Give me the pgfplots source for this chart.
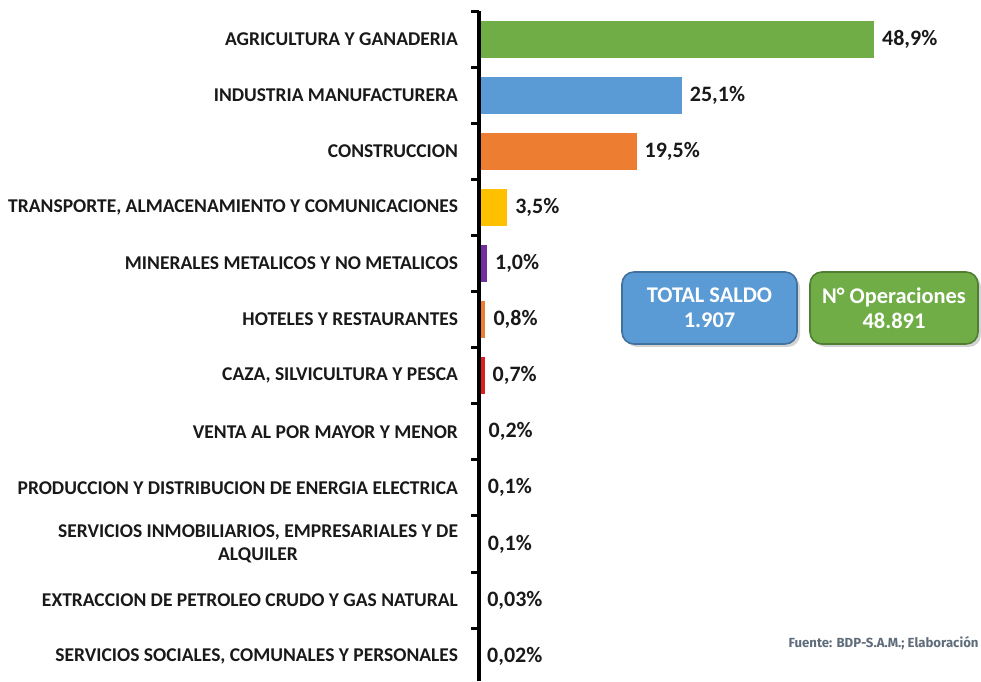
\documentclass[border=0pt]{standalone}
\usepackage{pgfplots}
\pgfplotsset{compat=1.18}
\usepackage{fontspec}
\setmainfont{Carlito}
\newfontfamily\fira{Fira Sans}
\usetikzlibrary{shadows}
\definecolor{cgreen}{RGB}{112,173,71}
\definecolor{cblue}{RGB}{91,155,213}
\definecolor{corange}{RGB}{237,125,49}
\definecolor{cyellow}{RGB}{255,192,0}
\definecolor{cpurple}{RGB}{112,48,160}
\definecolor{cred}{RGB}{220,30,30}
\definecolor{cgrey}{RGB}{140,140,140}
\definecolor{boxblueD}{RGB}{65,113,156}
\definecolor{boxgreenD}{RGB}{80,126,50}
\definecolor{fuente}{RGB}{95,108,122}
\definecolor{txt}{RGB}{25,25,25}
\begin{document}
\begin{tikzpicture}[x=0.5pt,y=0.5pt]
\useasboundingbox (0,0) rectangle (981,681);
\begin{axis}[
  at={(239.5pt,335pt)}, anchor=north west,
  x=4.04pt, y=28.05pt, y dir=reverse,
  xmin=0, xmax=50, ymin=-0.5, ymax=11.45,
  xbar, bar width=18.5pt, bar shift=0pt,
  hide x axis,
  axis y line*=left,
  axis line style={draw=none},
  every outer y axis line/.append style={draw=none},
  ytick={0,...,11}, major tick length=0pt,
  minor ytick={-0.5,0.5,...,10.5}, minor tick length=4pt,
  tick align=outside,
  every minor tick/.append style={line width=1.5pt,black},
  minor tick style={line width=1.5pt,black},
  yticklabels={{AGRICULTURA Y GANADERIA},{INDUSTRIA MANUFACTURERA},{CONSTRUCCION},{TRANSPORTE, ALMACENAMIENTO Y COMUNICACIONES},{MINERALES METALICOS Y NO METALICOS},{HOTELES Y RESTAURANTES},{CAZA, SILVICULTURA Y PESCA},{VENTA AL POR MAYOR Y MENOR},{PRODUCCION Y DISTRIBUCION DE ENERGIA ELECTRICA},{SERVICIOS INMOBILIARIOS, EMPRESARIALES Y DE\\ALQUILER},{EXTRACCION DE PETROLEO CRUDO Y GAS NATURAL},{SERVICIOS SOCIALES, COMUNALES Y PERSONALES}},
  yticklabel style={font=\bfseries\fontsize{9.75}{11.3}\selectfont, align=center, xshift=-7pt, text=txt},
  point meta=explicit symbolic,
  nodes near coords,
  every node near coord/.append style={font=\bfseries\fontsize{11}{12}\selectfont, anchor=west, xshift=0.5pt, text=txt},
  clip=false,
]
\addplot[fill=cgreen, draw=none] coordinates {(48.9,0) [{48,9\%}]};
\addplot[fill=cblue, draw=none] coordinates {(25.1,1) [{25,1\%}]};
\addplot[fill=corange, draw=none] coordinates {(19.5,2) [{19,5\%}]};
\addplot[fill=cyellow, draw=none] coordinates {(3.5,3) [{3,5\%}]};
\addplot[fill=cpurple, draw=none] coordinates {(1.0,4) [{1,0\%}]};
\addplot[fill=corange, draw=none] coordinates {(0.8,5) [{0,8\%}]};
\addplot[fill=cred, draw=none] coordinates {(0.7,6) [{0,7\%}]};
\addplot[fill=cgrey, draw=none] coordinates {(0.2,7) [{0,2\%}]};
\addplot[fill=cgrey, draw=none] coordinates {(0.1,8) [{0,1\%}]};
\addplot[fill=cgrey, draw=none] coordinates {(0.1,9) [{0,1\%}]};
\addplot[fill=cgrey, draw=none] coordinates {(0.03,10) [{0,03\%}]};
\addplot[fill=cgrey, draw=none] coordinates {(0.02,11) [{0,02\%}]};
\draw[line width=1.7pt, black] (axis cs:0,-0.5) -- (axis cs:0,11.45);
\end{axis}
\node[rounded corners=6pt, fill=cblue, draw=boxblueD, line width=0.8pt,
  minimum width=87.5pt, minimum height=36pt,
  drop shadow={shadow xshift=1.5pt, shadow yshift=-1.5pt, opacity=0.35},
  text=white, font=\bfseries\fontsize{11.2}{12.5}\selectfont, align=center]
  at (709.5,373) {TOTAL SALDO\\1.907};
\node[rounded corners=6pt, fill=cgreen, draw=boxgreenD, line width=0.8pt,
  minimum width=84pt, minimum height=36pt,
  drop shadow={shadow xshift=1.5pt, shadow yshift=-1.5pt, opacity=0.35},
  text=white, font=\bfseries\fontsize{11.2}{12.5}\selectfont, align=center]
  at (894,373) {N° Operaciones\\48.891};
\node[anchor=east, font=\fira\bfseries\fontsize{6.6}{7}\selectfont, text=fuente, inner sep=0pt]
  at (979,38) {Fuente: BDP-S.A.M.; Elaboración};
\end{tikzpicture}
\end{document}
